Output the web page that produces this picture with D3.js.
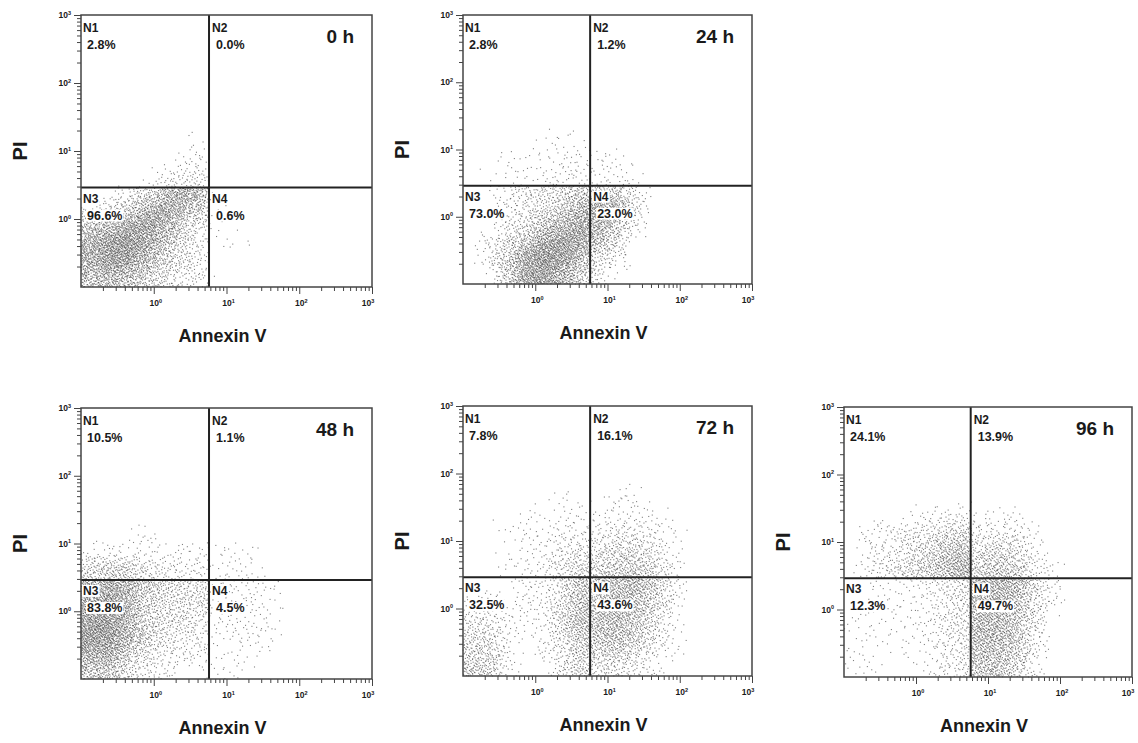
<!DOCTYPE html>
<html>
<head>
<meta charset="utf-8">
<script src="https://cdn.jsdelivr.net/npm/d3@7"></script>
<style>
  body { margin: 0; background: #fff; }
  text { font-family: Arial, "Liberation Sans", sans-serif; font-weight: bold; fill: #1a1a1a; }
</style>
</head>
<body>
<script>
// Panel titles and quadrant names
const panelNames = ["0 h", "24 h", "48 h", "72 h", "96 h"];
const quadNames = ["N1", "N2", "N3", "N4"];

// Quadrant percentages [N1, N2, N3, N4]
const pct0h = [2.8, 0.0, 96.6, 0.6];
const pct24h = [2.8, 1.2, 73.0, 23.0];
const pct48h = [10.5, 1.1, 83.8, 4.5];
const pct72h = [7.8, 16.1, 32.5, 43.6];
const pct96h = [24.1, 13.9, 12.3, 49.7];

// Gate positions (Annexin V, PI)
const gateX = 5.75;
const gateY = 2.9;

// Tick labels (decade exponents)
const tickExps = [0, 1, 2, 3];

// Relative dot density, 0.25-decade bins.
// rows: PI from 10^2 (top) down to 10^-1, cols: Annexin V from 10^-1 to 10^2.25
const dens0h = [
  [0,0,0,0,0,0,0,0,0,0,0,0,0],
  [0,0,0,0,0,0,0,0,0,0,0,0,0],
  [0,0,0,0,0,0,0,0,0,0,0,0,0],
  [0,0,0,0,0,0,1,0,0,0,0,0,0],
  [0,0,0,0,0,1,2,0,0,0,0,0,0],
  [0,0,0,0,1,3,4,0,0,0,0,0,0],
  [0,0,1,2,4,7,5,0,0,0,0,0,0],
  [1,2,3,5,7,5,3,1,0,0,0,0,0],
  [4,5,7,8,6,3,1,1,0,0,0,0,0],
  [6,8,9,7,4,2,1,0,1,0,0,0,0],
  [6,8,8,5,3,2,1,0,0,0,0,0,0],
  [4,5,4,3,2,1,1,0,0,0,0,0,0]
];
const dens24h = [
  [0,0,0,0,0,0,0,0,0,0,0,0,0],
  [0,0,0,0,0,0,0,0,0,0,0,0,0],
  [0,0,0,0,0,0,0,0,0,0,0,0,0],
  [0,0,0,0,1,1,1,0,0,0,0,0,0],
  [0,0,1,1,1,2,2,1,1,0,0,0,0],
  [0,1,1,2,2,3,3,2,2,1,0,0,0],
  [0,0,1,1,2,2,3,3,3,1,0,0,0],
  [0,0,1,1,2,3,5,7,6,2,0,0,0],
  [0,0,1,2,4,5,7,6,3,1,0,0,0],
  [0,1,2,4,7,8,7,4,2,0,0,0,0],
  [0,1,3,7,9,8,5,2,1,0,0,0,0],
  [0,0,3,7,8,6,3,1,0,0,0,0,0]
];
const dens48h = [
  [0,0,0,0,0,0,0,0,0,0,0,0,0],
  [0,0,0,0,0,0,0,0,0,0,0,0,0],
  [0,0,0,0,0,0,0,0,0,0,0,0,0],
  [0,0,0,1,0,0,0,0,0,0,0,0,0],
  [1,1,1,1,1,1,1,1,1,1,0,0,0],
  [6,7,7,4,3,2,2,1,2,1,0,0,0],
  [6,7,6,4,3,2,2,2,2,2,1,0,0],
  [7,8,6,3,2,2,2,2,2,2,1,0,0],
  [8,9,6,3,2,2,1,2,2,2,1,0,0],
  [9,9,6,3,2,1,1,1,2,2,1,0,0],
  [7,7,4,2,1,1,1,1,1,1,0,0,0],
  [4,4,2,1,1,0,0,1,1,0,0,0,0]
];
const dens72h = [
  [0,0,0,0,0,0,0,0,0,0,0,0,0],
  [0,0,0,0,0,1,0,0,1,1,0,0,0],
  [0,0,0,1,0,1,1,1,1,1,1,0,0],
  [0,0,1,1,1,2,2,2,3,3,2,1,0],
  [0,0,0,1,1,3,4,4,5,5,3,1,0],
  [0,0,1,1,2,4,6,6,7,8,5,2,0],
  [0,0,0,1,1,3,6,7,8,9,6,2,0],
  [1,1,0,1,1,3,6,7,8,8,5,2,0],
  [2,2,1,1,1,4,7,8,9,7,4,1,0],
  [3,3,1,0,1,3,6,7,8,6,3,1,0],
  [4,4,1,0,1,2,5,5,6,4,2,1,0],
  [5,4,1,0,0,2,4,3,3,2,1,0,0]
];
const dens96h = [
  [0,0,0,0,0,0,0,0,0,0,0,0,0],
  [0,0,0,0,0,0,0,0,0,0,0,0,0],
  [0,0,0,0,1,1,1,1,1,1,0,0,0],
  [0,1,1,2,2,3,4,3,3,3,1,0,0],
  [0,1,1,2,3,5,6,5,6,5,2,0,0],
  [0,1,2,3,4,6,8,7,9,7,3,1,0],
  [0,1,1,2,3,5,7,8,9,8,4,1,0],
  [0,1,1,1,2,4,7,8,8,7,3,1,0],
  [1,1,1,1,2,4,6,8,8,6,3,0,0],
  [1,1,1,1,2,4,6,8,8,6,2,0,0],
  [1,1,0,1,1,3,5,7,7,5,2,0,0],
  [1,1,0,0,1,3,5,6,6,4,1,0,0]
];

// events plotted per sample
const eventsPerPanel = 4000;

const pcts = [pct0h, pct24h, pct48h, pct72h, pct96h];
const densities = [dens0h, dens24h, dens48h, dens72h, dens96h];

// plot frames on the page
const frames = [
  { l: 81, t: 15, r: 372, b: 287 },
  { l: 463, t: 15, r: 752, b: 284 },
  { l: 81, t: 408, r: 372, b: 679 },
  { l: 463, t: 406, r: 752, b: 676 },
  { l: 844, t: 407, r: 1132, b: 677 }
];

const svg = d3.select("body").append("svg")
  .attr("width", 1138)
  .attr("height", 743);

// low-discrepancy sequence used to place events
function halton(i, b) {
  let f = 1, r = 0;
  while (i > 0) { f /= b; r += f * (i % b); i = Math.floor(i / b); }
  return r;
}

const bin = 0.25;   // decades per bin
const lgx = Math.log10(gateX), lgy = Math.log10(gateY);
const quadAt = (lx, ly) => (ly > lgy ? 0 : 2) + (lx > lgx ? 1 : 0);

function buildDots(grid, pct) {
  const nr = grid.length, nc = grid[0].length;
  const cell = (r, c) => {
    if (c < 0) c = 0;
    if (r >= nr) r = nr - 1;
    if (r < 0 || c >= nc) return 0;
    return grid[r][c];
  };
  // bilinear density between bin centres
  const level = (lx, ly) => {
    const fc = (lx + 1) / bin - 0.5, fr = (2 - ly) / bin - 0.5;
    const c0 = Math.floor(fc), r0 = Math.floor(fr);
    const tc = fc - c0, tr = fr - r0;
    return (cell(r0, c0) * (1 - tc) + cell(r0, c0 + 1) * tc) * (1 - tr) +
           (cell(r0 + 1, c0) * (1 - tc) + cell(r0 + 1, c0 + 1) * tc) * tr;
  };
  const peak = [0, 0, 0, 0];
  grid.forEach((row, r) => row.forEach((v, c) => {
    const q = quadAt(-1 + (c + 0.5) * bin, 2 - (r + 0.5) * bin);
    peak[q] = Math.max(peak[q], v);
  }));
  const quota = pct.map(p => Math.round(eventsPerPanel * p / 100));
  const got = [0, 0, 0, 0];
  const dots = [];
  for (let i = 1; i < 3000000; i++) {
    if (got.every((g, q) => g >= quota[q])) break;
    const lx = -1 + 4 * halton(i, 2);
    const ly = -1 + 4 * halton(i, 3);
    const q = quadAt(lx, ly);
    if (got[q] >= quota[q] || !peak[q]) continue;
    if (halton(i, 5) < level(lx, ly) / peak[q]) {
      got[q]++;
      dots.push({ x: Math.pow(10, lx), y: Math.pow(10, ly) });
    }
  }
  return dots;
}

// minor and major tick values
const minorTicks = [];
for (let e = -1; e < 3; e++) for (let m = 2; m <= 9; m++) minorTicks.push(m * Math.pow(10, e));
const majorTicks = tickExps.map(e => Math.pow(10, e));

function labelWithBox(g, x, y, txt, size) {
  const t = g.append("text")
    .attr("x", x).attr("y", y)
    .attr("font-size", size)
    .text(txt);
  const bb = t.node().getBBox();
  g.insert("rect", () => t.node())
    .attr("x", bb.x - 1).attr("y", bb.y + 1)
    .attr("width", bb.width + 2).attr("height", bb.height - 2)
    .attr("fill", "#fff");
}

panelNames.forEach((name, i) => {
  const f = frames[i];
  const x = d3.scaleLog().domain([0.1, 1000]).range([f.l, f.r]);
  const y = d3.scaleLog().domain([0.1, 1000]).range([f.b, f.t]);
  const g = svg.append("g");

  g.append("rect")
    .attr("x", f.l).attr("y", f.t)
    .attr("width", f.r - f.l).attr("height", f.b - f.t)
    .attr("fill", "#fff");

  // events
  g.append("g")
    .selectAll("rect")
    .data(buildDots(densities[i], pcts[i]))
    .join("rect")
    .attr("x", d => x(d.x) - 0.55)
    .attr("y", d => y(d.y) - 0.55)
    .attr("width", 1.1)
    .attr("height", 1.1)
    .attr("fill", "#333")
    .attr("opacity", 0.62);

  // quadrant gates
  g.append("line")
    .attr("x1", x(gateX)).attr("x2", x(gateX))
    .attr("y1", f.t).attr("y2", f.b)
    .attr("stroke", "#222").attr("stroke-width", 2);
  g.append("line")
    .attr("x1", f.l).attr("x2", f.r)
    .attr("y1", y(gateY)).attr("y2", y(gateY))
    .attr("stroke", "#222").attr("stroke-width", 2);

  // frame
  g.append("rect")
    .attr("x", f.l).attr("y", f.t)
    .attr("width", f.r - f.l).attr("height", f.b - f.t)
    .attr("fill", "none")
    .attr("stroke", "#444").attr("stroke-width", 1.5);

  // axes ticks
  const axisStyle = sel => {
    sel.select(".domain").remove();
    sel.selectAll("line").attr("stroke", "#444");
  };
  g.append("g").attr("transform", `translate(0,${f.b})`)
    .call(d3.axisBottom(x).tickValues(minorTicks).tickSize(4).tickFormat(""))
    .call(axisStyle);
  g.append("g").attr("transform", `translate(0,${f.b})`)
    .call(d3.axisBottom(x).tickValues(majorTicks).tickSize(7).tickFormat(""))
    .call(axisStyle);
  g.append("g").attr("transform", `translate(${f.l},0)`)
    .call(d3.axisLeft(y).tickValues(minorTicks).tickSize(4).tickFormat(""))
    .call(axisStyle);
  g.append("g").attr("transform", `translate(${f.l},0)`)
    .call(d3.axisLeft(y).tickValues(majorTicks).tickSize(7).tickFormat(""))
    .call(axisStyle);

  // tick labels 10^n
  tickExps.forEach((e, k) => {
    const v = majorTicks[k];
    const tx = g.append("text")
      .attr("x", x(v) + (e === 3 ? -4 : 2))
      .attr("y", f.b + 19)
      .attr("text-anchor", "middle")
      .attr("font-size", 8.5);
    tx.append("tspan").text("10");
    tx.append("tspan").attr("font-size", 5.5).attr("dy", -3.5).text(e);

    const ty = g.append("text")
      .attr("x", f.l - 10)
      .attr("y", y(v) + 3)
      .attr("text-anchor", "end")
      .attr("font-size", 8.5);
    ty.append("tspan").text("10");
    ty.append("tspan").attr("font-size", 5.5).attr("dy", -3.5).text(e);
  });

  // quadrant labels
  const gx = x(gateX), gy = y(gateY);
  const spots = [
    { x: f.l + 2, y: f.t + 17 },
    { x: gx + 3, y: f.t + 17 },
    { x: f.l + 2, y: gy + 15 },
    { x: gx + 3, y: gy + 15 }
  ];
  quadNames.forEach((qn, q) => {
    labelWithBox(g, spots[q].x, spots[q].y, qn, 12);
    labelWithBox(g, spots[q].x + 4, spots[q].y + 17, pcts[i][q].toFixed(1) + "%", 12.5);
  });

  // sample title
  g.append("text")
    .attr("x", f.r - 18).attr("y", f.t + 28)
    .attr("text-anchor", "end")
    .attr("font-size", 19)
    .text(name);

  // axis titles
  g.append("text")
    .attr("x", (f.l + f.r) / 2 - 4).attr("y", f.b + 55)
    .attr("text-anchor", "middle")
    .attr("font-size", 18)
    .text("Annexin V");
  g.append("text")
    .attr("transform", `translate(${f.l - 54},${(f.t + f.b) / 2}) rotate(-90)`)
    .attr("text-anchor", "middle")
    .attr("font-size", 20)
    .text("PI");
});
</script>
</body>
</html>
